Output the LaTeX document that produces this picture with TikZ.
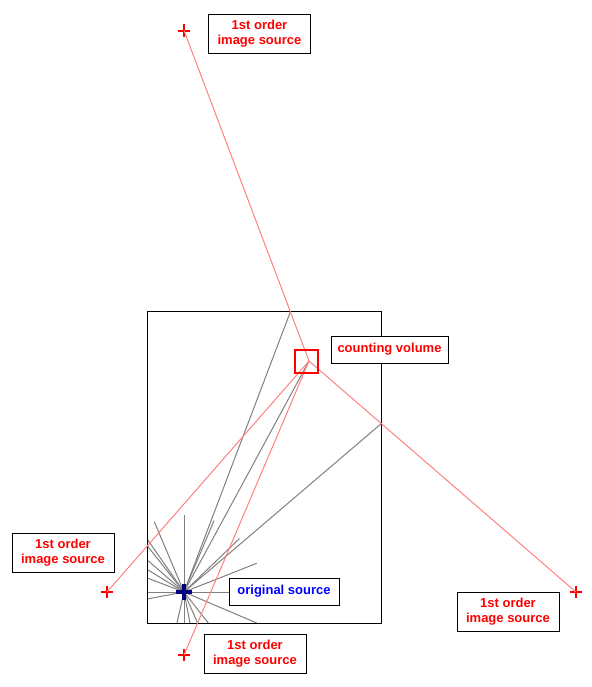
\documentclass[tikz,border=0pt]{standalone}
\usepackage{fontspec}
\setmainfont{Liberation Sans}
\usetikzlibrary{shapes.misc}
\definecolor{raygray}{RGB}{128,128,128}
\definecolor{imgred}{RGB}{255,128,128}
\definecolor{srcnavy}{RGB}{0,0,128}
\begin{document}
\begin{tikzpicture}[
    x=0.75pt, y=-0.75pt,
    ray/.style={raygray, line width=0.75pt},
    imgray/.style={imgred, line width=0.75pt},
    imgsrc/.style={cross out, draw=red, line width=1.5pt, minimum size=5.3pt, inner sep=0pt, rotate=45},
    lbl/.style={draw, fill=white, line width=0.75pt, inner sep=0pt, align=center, text=red,
      font=\bfseries\fontsize{9.75}{11.6}\selectfont},
    imglbl/.style={lbl, minimum width=76.5pt, minimum height=29.25pt}
    ]
    \useasboundingbox (0,0) rectangle (592,687);
    % room and points
    \coordinate (src) at (184,592);
    \coordinate (rcv) at (309,361);
    \coordinate (rtop) at (290.4,311.7);
    \coordinate (rright) at (381.3,423.6);
    \coordinate (rleft) at (147.3,545.9);
    \coordinate (rbottom) at (197.6,623);
    % rays from the source
    \foreach \p in {(184,515),(154.3,521.7),(214,520.7),(239.5,538.5),(256.7,563.3),
        (147.3,539.3),(147.3,560),(147.3,569.5),(147.3,578),(147.3,592),(147.3,599),
        (177,623),(184,623),(190,623),(208.3,623),(256.7,623),(229,592)}
      \draw[ray] (src) -- \p;
    \foreach \p in {rtop,rright,rleft,rbottom,rcv}
      \draw[ray] (src) -- (\p);
    \draw[line width=0.75pt] (147.3,311.7) rectangle (381.3,623);
    % image sources
    \node[imgsrc] (itop) at (184,30.5) {};
    \node[imgsrc] (ileft) at (107,592) {};
    \node[imgsrc] (iright) at (576,592) {};
    \node[imgsrc] (ibottom) at (184,655) {};
    \foreach \i in {itop,ileft,iright,ibottom}
      \draw[imgray] (\i.center) -- (rcv);
    \node[draw=red, line width=1.5pt, minimum size=17.5pt, inner sep=0pt] (cvol) at (306.2,361.5) {};
    \node[cross out, draw=srcnavy, line width=3pt, minimum size=5.8pt, inner sep=0pt, rotate=45] (osrc) at (src) {};
    % labels
    \node[imglbl] (ltop) at (259.5,33.5) {1st order\\image source};
    \node[imglbl] (lleft) at (63,552.5) {1st order\\image source};
    \node[imglbl] (lright) at (508,611.5) {1st order\\image source};
    \node[imglbl] (lbottom) at (255,653.5) {1st order\\image source};
    \node[lbl, minimum width=87.75pt, minimum height=20.25pt] (lcvol) at (389.5,349.5) {counting volume};
    \node[lbl, text=blue, minimum width=82.5pt, minimum height=20.25pt] (lsrc) at (284,591.5) {original source};
\end{tikzpicture}
\end{document}
